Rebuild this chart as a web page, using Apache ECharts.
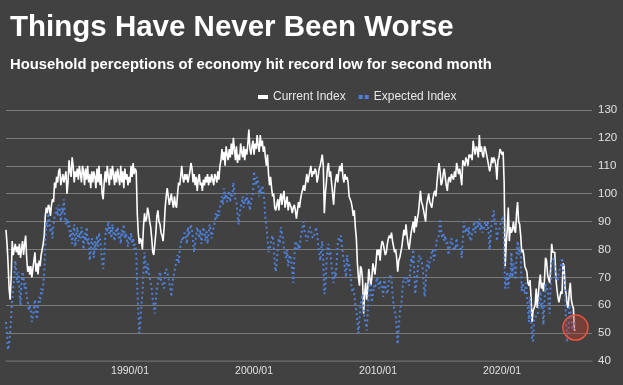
<!DOCTYPE html>
<html><head><meta charset="utf-8">
<script src="https://cdn.jsdelivr.net/npm/echarts@6/dist/echarts.min.js"></script>
<style>html,body{margin:0;padding:0;background:#414141}#c{width:623px;height:385px}</style>
</head><body><div id="c"></div>
<script>
// Monthly series, first value = 1980/01, last value = 2025/12
const startYear = 1980;
const axisEndLabel = '2027/04';
const xTickLabels = ['1990/01', '2000/01', '2010/01', '2020/01'];
const currentIndex = [
87,82,75,66,62,70,83,78,80,82,79,81,
78,82,77,80,83,78,82,85,77,72,74,71,
74,70,73,76,79,72,75,71,76,74,78,80,
82,85,92,95,93,96,95,92,96,98,97,104,
102,106,104,108,109,103,105,107,104,106,108,100,
104,112,108,106,113,110,104,108,106,109,105,110,
107,104,110,108,103,109,105,110,104,107,102,108,
104,108,106,102,109,104,110,103,107,100,98,104,
108,104,110,106,103,109,105,110,107,103,108,104,
109,106,103,110,104,108,102,109,105,107,103,106,
104,110,106,111,107,109,108,93,86,82,84,83,
80,88,93,90,91,95,93,90,88,84,79,78,
82,86,92,94,90,89,86,85,83,88,95,99,
102,99,96,98,100,97,95,99,96,95,100,104,
103,106,110,106,104,107,105,107,104,106,108,111,
109,104,107,103,106,101,105,107,103,104,101,105,
103,106,104,107,103,106,104,107,105,103,107,106,
104,108,105,110,112,116,112,115,110,117,114,112,
116,113,118,114,120,116,112,117,111,114,112,118,
115,113,117,112,116,114,118,123,116,114,117,119,
114,118,116,121,117,115,121,117,119,115,117,113,
110,114,107,103,106,102,99,100,95,94,96,98,
94,98,100,96,99,101,95,97,99,94,97,96,
95,93,95,96,94,91,94,97,95,98,100,100,
103,101,104,107,104,106,108,110,106,108,107,109,
108,104,106,109,110,112,114,110,93,100,104,109,
111,106,108,104,100,96,102,105,107,104,108,110,
108,111,106,104,107,105,106,104,99,98,97,95,
92,94,88,84,75,70,67,74,73,69,57,64,
68,62,66,73,70,67,70,75,73,71,75,80,
78,80,76,81,83,82,80,78,79,82,84,85,
84,86,83,81,79,80,77,72,76,77,79,81,
84,87,85,89,85,82,80,83,86,88,90,86,
92,88,91,93,97,101,97,96,94,92,90,96,
98,100,97,96,95,98,100,101,99,104,108,111,
108,103,104,107,109,106,103,101,105,106,104,107,
106,105,108,106,111,109,107,109,106,103,112,111,
110,113,112,110,114,113,114,112,119,116,114,117,
116,113,121,115,117,114,113,117,116,114,112,110,
108,110,113,111,113,112,110,105,112,113,116,115,
114,115,104,74,82,87,95,83,88,86,87,90,
87,86,93,97,90,89,85,79,80,78,74,74,
72,68,67,69,63,54,58,59,60,66,59,59,
68,71,66,68,65,69,77,76,71,71,68,73,
82,79,79,79,70,66,63,61,63,65,64,75,
74,66,64,60,59,65,68,62,60,59,51,51
];
const expectedIndex = [
54,49,44,46,50,56,62,66,70,76,72,68,
72,65,60,68,72,70,66,68,63,62,58,60,
58,54,56,59,62,57,55,60,63,61,66,64,
67,72,82,90,88,93,90,86,88,84,89,92,
93,95,92,96,94,90,95,93,98,92,89,91,
88,90,84,87,82,86,89,81,85,88,83,86,
84,88,85,80,86,83,88,82,84,76,80,84,
82,77,83,80,85,81,86,84,80,76,73,78,
84,88,86,90,85,88,84,89,86,83,87,85,
88,84,86,82,87,85,89,84,86,83,81,85,
83,86,82,84,80,82,79,66,58,50,54,60,
64,72,79,74,71,75,72,70,68,66,62,60,
57,62,66,68,70,72,69,68,67,66,72,73,
72,70,68,66,63,68,70,72,74,76,78,75,
79,82,84,83,85,86,84,82,88,85,87,89,
87,83,79,82,85,88,86,84,87,82,85,88,
86,83,87,82,85,89,87,84,86,88,90,93,
91,94,92,95,97,99,96,102,98,100,97,99,
101,97,100,99,104,101,98,97,92,89,93,95,
97,99,95,98,97,100,96,98,94,97,99,100,
108,105,103,106,104,99,102,100,103,101,97,91,
88,84,79,80,82,84,85,82,75,72,76,80,
84,82,88,86,84,80,78,77,80,74,77,78,
76,72,68,77,83,82,80,82,80,84,86,88,
90,86,85,83,84,87,88,87,85,84,85,86,
88,86,82,79,76,80,83,76,64,66,74,80,
82,78,79,74,70,68,72,70,76,82,84,83,
85,82,78,76,73,70,78,74,75,72,68,65,
66,64,60,58,54,50,55,60,62,64,58,55,
54,51,57,66,68,66,61,64,67,66,68,70,
68,66,69,67,66,63,70,67,65,64,68,69,
71,70,64,60,58,57,52,46,52,57,60,62,
68,70,70,68,70,69,67,72,77,75,80,72,
64,68,71,75,78,77,76,74,69,63,67,74,
76,73,76,77,79,80,76,78,81,84,84,85,
91,87,84,86,83,85,82,83,78,80,82,84,
82,80,81,80,84,81,81,80,81,77,84,90,
87,86,88,85,88,84,83,86,87,90,86,86,
90,88,91,87,89,86,87,89,90,87,90,86,
80,86,89,92,94,89,90,83,86,87,88,90,
91,92,80,66,68,72,66,71,70,79,70,75,
74,69,78,83,78,81,79,65,68,68,64,68,
64,59,54,63,56,48,47,55,56,56,56,58,
62,65,59,61,53,61,68,65,66,61,57,67,
75,75,77,73,69,70,69,72,73,74,77,73,
73,64,53,47,48,60,58,56,52,51,51,55
];
const highlightValue = 52;

// month categories for the axis (axis runs a little past the data)
const categories = [];
for (let y = startYear, done = false; !done; y++) {
  for (let m = 1; m <= 12; m++) {
    const lab = y + '/' + (m < 10 ? '0' + m : m);
    categories.push(lab);
    if (lab === axisEndLabel) { done = true; break; }
  }
}

const WHITE = '#ffffff';
const BLUE = '#4d80dc';
const FONT = 'Liberation Sans, Arial, sans-serif';

const chart = echarts.init(document.getElementById('c'), null, {renderer: 'canvas'});
chart.setOption({
  backgroundColor: '#414141',
  animation: false,
  title: [
    {text: 'Things Have Never Been Worse', left: 5, top: 8,
     textStyle: {color: WHITE, fontSize: 29.5, fontWeight: 'bold', fontFamily: FONT}},
    {text: 'Household perceptions of economy hit record low for second month', left: 5, top: 52,
     textStyle: {color: WHITE, fontSize: 14.8, fontWeight: 'bold', fontFamily: FONT}}
  ],
  legend: {
    left: 253, top: 86, itemWidth: 10, itemHeight: 4, itemGap: 13,
    textStyle: {color: '#e6e6e6', fontSize: 12, fontFamily: FONT},
    data: [
      {name: 'Current Index', icon: 'rect', itemStyle: {color: WHITE}},
      {name: 'Expected Index', icon: 'path://M0,0h4v4h-4z M6,0h4v4h-4z', itemStyle: {color: BLUE}}
    ]
  },
  grid: {left: 6, right: 31, top: 110, bottom: 24, containLabel: false},
  xAxis: {
    type: 'category', data: categories, boundaryGap: false,
    axisLine: {show: true, lineStyle: {color: '#5e5e5e', width: 1.5}},
    axisTick: {show: false},
    splitLine: {show: false},
    axisLabel: {
      color: '#e0e0e0', fontSize: 10.5, fontFamily: FONT, margin: 5,
      interval: (i, v) => xTickLabels.indexOf(v) >= 0
    }
  },
  yAxis: {
    type: 'value', position: 'right', min: 40, max: 130, interval: 10,
    axisLine: {show: false}, axisTick: {show: false},
    splitLine: {lineStyle: {color: '#7a7a7a', width: 1}},
    axisLabel: {color: '#e0e0e0', fontSize: 11.5, fontFamily: FONT, margin: 6}
  },
  series: [
    {name: 'Current Index', type: 'line', data: currentIndex, symbol: 'none',
     lineStyle: {color: WHITE, width: 1.6}, itemStyle: {color: WHITE}},
    {name: 'Expected Index', type: 'line', data: expectedIndex, symbol: 'none',
     lineStyle: {color: BLUE, width: 2, type: [2, 3]}, itemStyle: {color: BLUE},
     markPoint: {
       silent: true, animation: false,
       data: [{coord: [currentIndex.length - 1, highlightValue], symbol: 'circle', symbolSize: 25,
               itemStyle: {color: 'rgba(200,60,40,0.38)', borderColor: '#e8553f', borderWidth: 1.5},
               label: {show: false}}]
     }}
  ]
});
</script></body></html>
